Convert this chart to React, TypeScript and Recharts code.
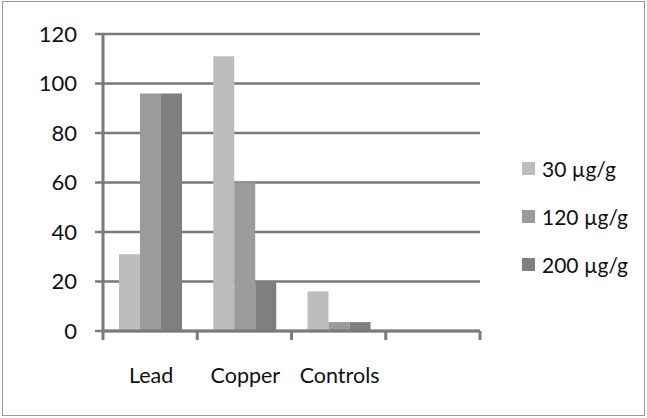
import React from 'react';
import { BarChart, Bar, XAxis, YAxis, CartesianGrid } from 'recharts';

const categories = ['Lead', 'Copper', 'Controls', ''];
const dose30 = [31, 111, 16, null];
const dose120 = [96, 60, 3.6, null];
const dose200 = [96, 20, 3.6, null];
const yTicks = [0, 20, 40, 60, 80, 100, 120];

const seriesNames = ['30 µg/g', '120 µg/g', '200 µg/g'];
const seriesColors = ['#bdbdbd', '#9b9b9b', '#7f7f7f'];

const data = categories.map((name, i) => ({
  name,
  d30: dose30[i],
  d120: dose120[i],
  d200: dose200[i],
}));

const AXIS = '#7a7a7a';
const TEXT = '#111';
const FONT = 'Lato, "Open Sans", sans-serif';
const PLOT_W = 377;
const BAND = PLOT_W / categories.length;

const XTick = (props: any) => {
  const { x, y, payload, index } = props;
  const axisY = y - 8;
  const isLast = index === categories.length - 1;
  return (
    <g>
      <line x1={x - BAND / 2} y1={axisY} x2={x - BAND / 2} y2={axisY + 9} stroke={AXIS} strokeWidth={3} />
      {isLast && (
        <line x1={x + BAND / 2} y1={axisY} x2={x + BAND / 2} y2={axisY + 9} stroke={AXIS} strokeWidth={3} />
      )}
      <text x={x + 1} y={axisY + 52} textAnchor="middle" fill={TEXT} fontSize={21.5} fontFamily={FONT}>
        {payload.value}
      </text>
    </g>
  );
};

export default function App() {
  return (
    <div style={{ position: 'absolute', left: 0, top: 0, width: 647, height: 418, background: '#fff' }}>
      <div style={{ position: 'absolute', left: 2, top: 1, width: 641, height: 413, border: '1px solid #9a9a9a' }} />
      <BarChart
        width={647}
        height={418}
        data={data}
        margin={{ top: 34, right: 167, bottom: 57, left: 43 }}
        barSize={21}
        barGap={0}
      >
        <CartesianGrid vertical={false} stroke={AXIS} strokeWidth={2.5} />
        <XAxis
          dataKey="name"
          height={30}
          interval={0}
          axisLine={{ stroke: AXIS, strokeWidth: 3 }}
          tickLine={false}
          tick={<XTick />}
          tickSize={8}
          tickMargin={0}
        />
        <YAxis
          width={60}
          domain={[0, 120]}
          ticks={yTicks}
          interval={0}
          axisLine={{ stroke: AXIS, strokeWidth: 3 }}
          tickLine={{ stroke: AXIS, strokeWidth: 2.5 }}
          tickSize={8}
          tickMargin={18}
          tick={{ fill: TEXT, fontSize: 22, fontFamily: FONT }}
        />
        <Bar dataKey="d30" name={seriesNames[0]} fill={seriesColors[0]} isAnimationActive={false} />
        <Bar dataKey="d120" name={seriesNames[1]} fill={seriesColors[1]} isAnimationActive={false} />
        <Bar dataKey="d200" name={seriesNames[2]} fill={seriesColors[2]} isAnimationActive={false} />
      </BarChart>
      <div style={{ position: 'absolute', left: 522, top: 144, fontFamily: FONT, fontSize: 21, color: TEXT }}>
        {seriesNames.map((n, i) => (
          <div key={n} style={{ display: 'flex', alignItems: 'center', height: 48 }}>
            <span style={{ width: 13, height: 13, background: seriesColors[i], marginRight: 7, display: 'inline-block' }} />
            <span>{n}</span>
          </div>
        ))}
      </div>
    </div>
  );
}
